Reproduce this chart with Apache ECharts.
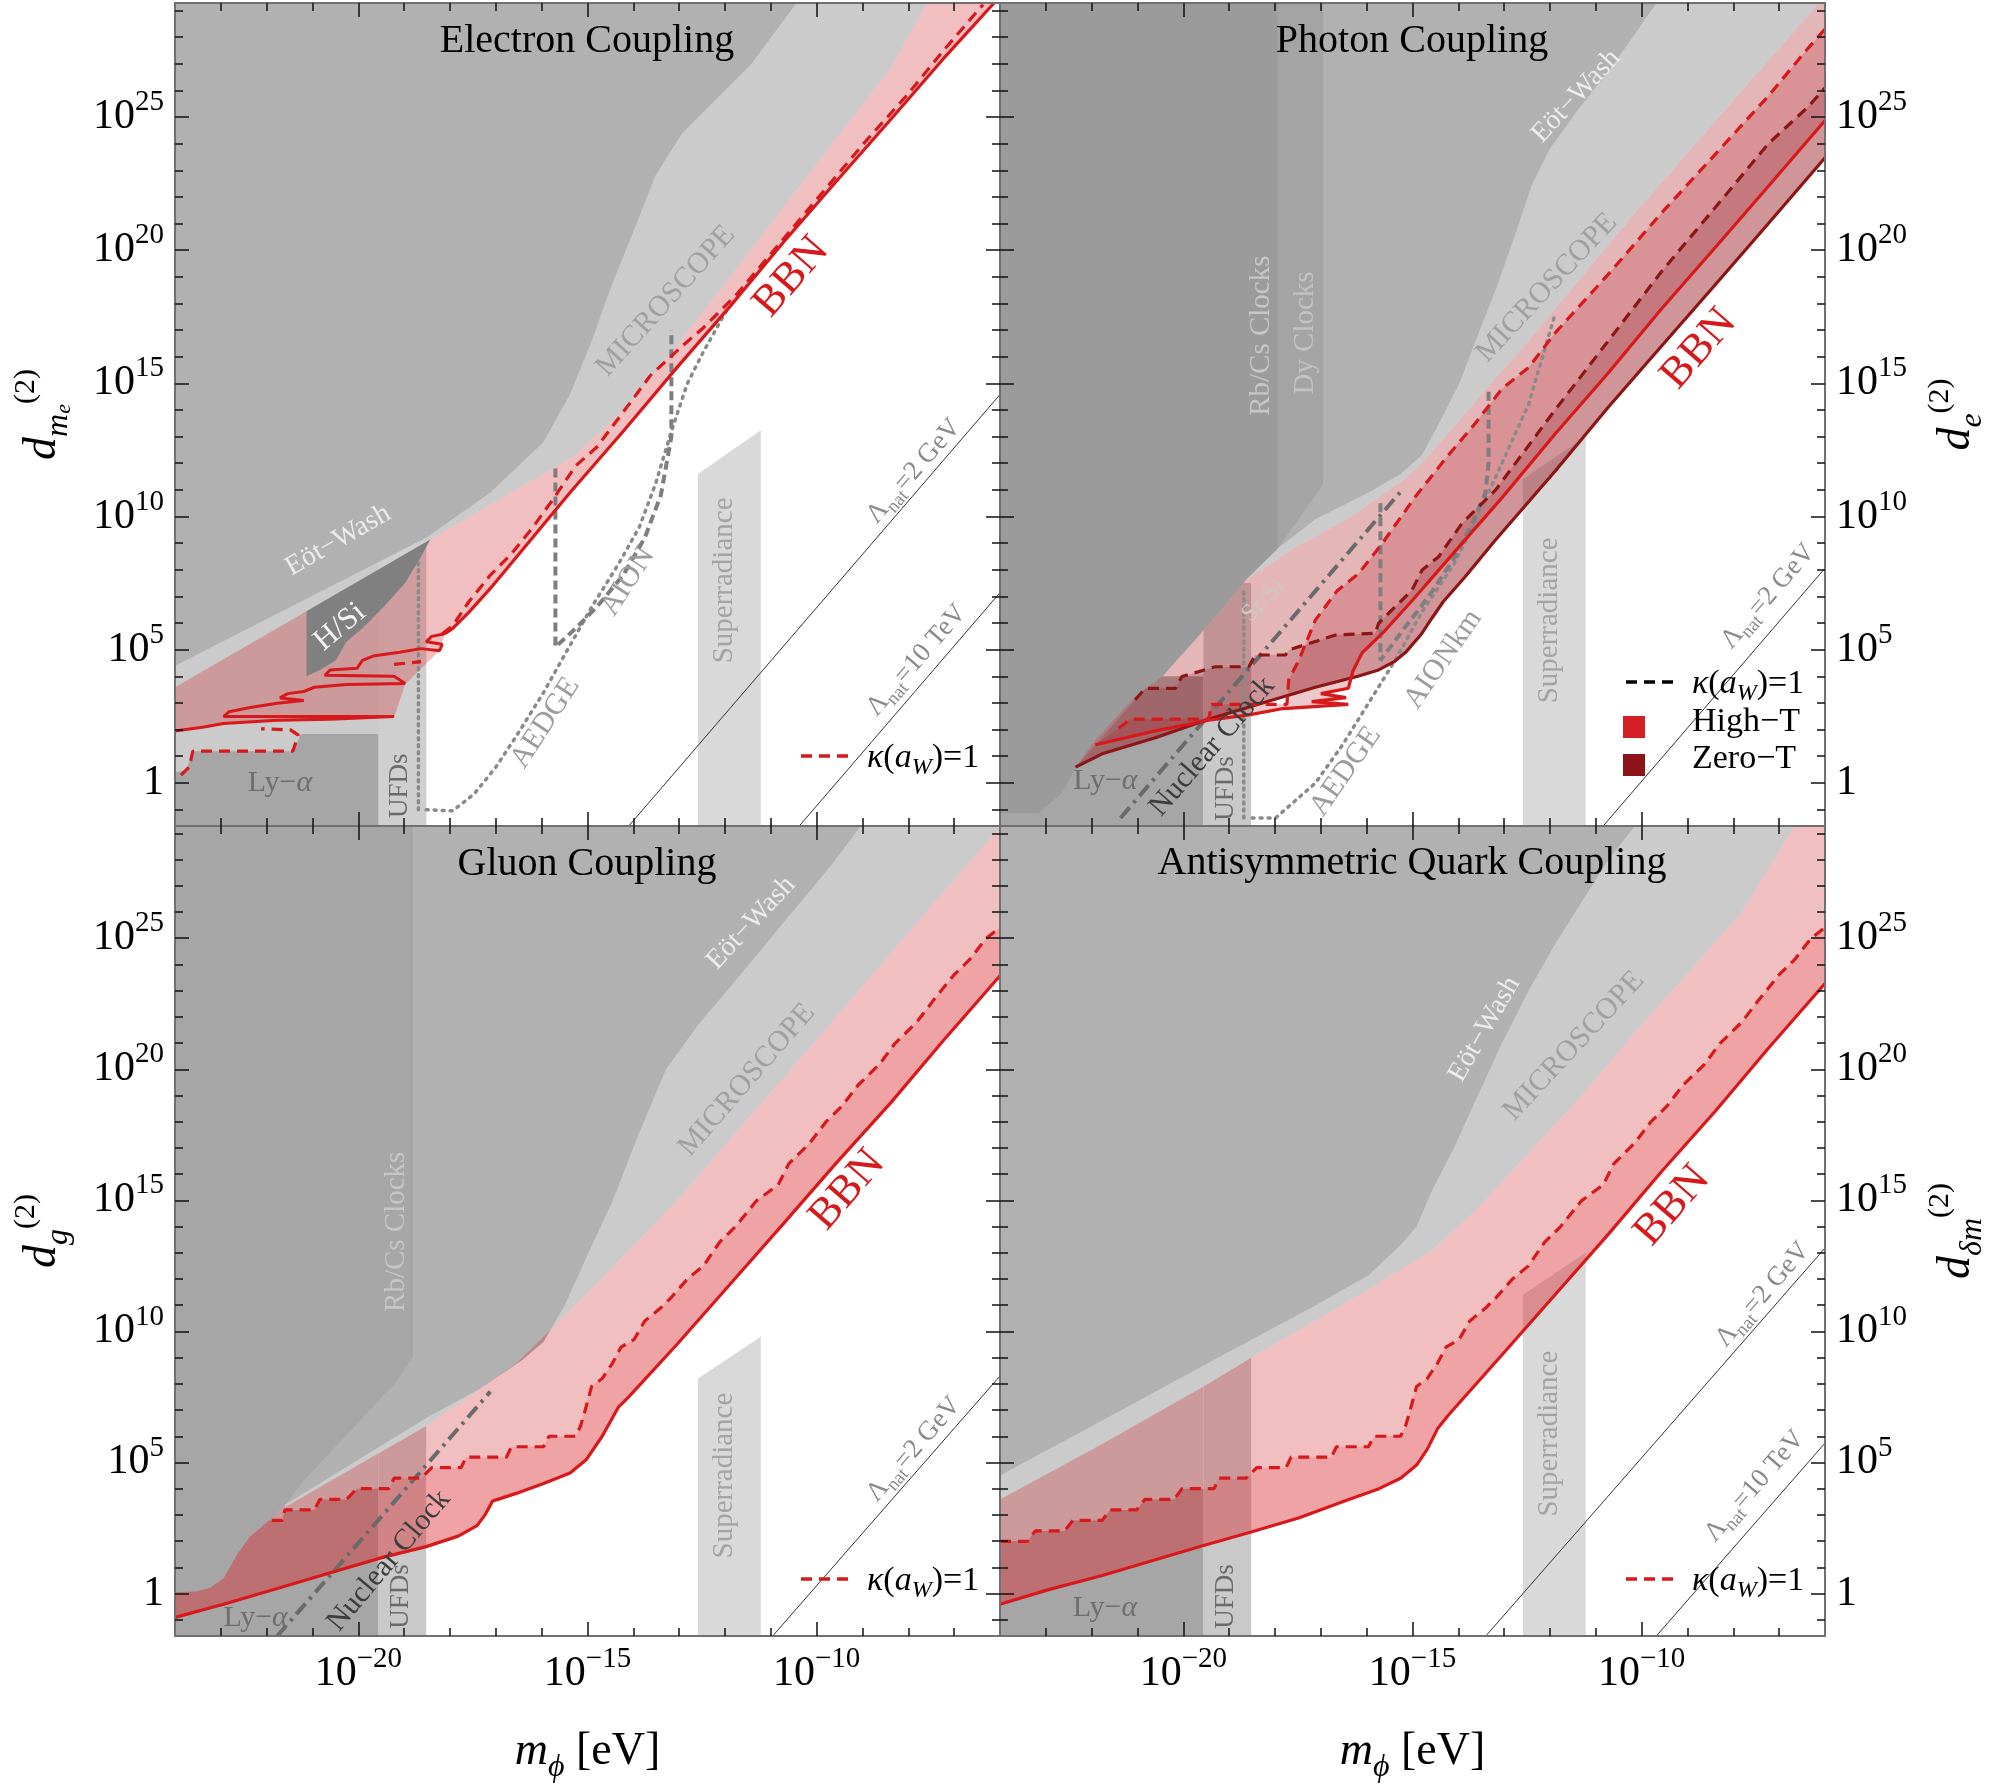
<!DOCTYPE html>
<html><head><meta charset="utf-8">
<script src="https://cdn.jsdelivr.net/npm/echarts@6/dist/echarts.min.js"></script>
<style>html,body{margin:0;padding:0;background:#fff}#c{width:2000px;height:1785px}</style>
</head><body><div id="c"></div>
<script>
// ---------- axis ranges & ticks (log10 units) ----------
const X_MIN = -24, X_MAX = -6, Y_MIN = -1.62, Y_MAX = 29.28;
const xMinorTicks = [-23,-22,-21,-20,-19,-18,-17,-16,-15,-14,-13,-12,-11,-10,-9,-8,-7];
const xMajorTicks = [-20,-15,-10];
const yMinorTicks = [-1,0,1,2,3,4,5,6,7,8,9,10,11,12,13,14,15,16,17,18,19,20,21,22,23,24,25,26,27,28,29];
const yMajorTicks = [0,5,10,15,20,25];
const panelTitles = ['Electron Coupling','Photon Coupling','Gluon Coupling','Antisymmetric Quark Coupling'];

// ---------- Panel 1: electron coupling ----------
const eMG = [[-24,4.40],[-18.52,9.20],[-17.12,10.90],[-15.96,12.80],[-15.38,14.59],[-14.91,16.59],[-14.45,18.79],[-13.98,20.79],[-13.52,22.79],[-12.94,24.38],[-12.24,25.58],[-11.43,26.98],[-10.44,29.28]];
const eLG = [[-24,3.59],[-18.40,9.16],[-15.26,12.30],[-14.22,14.00],[-13.05,16.39],[-11.89,18.99],[-10.73,21.59],[-9.57,24.19],[-8.40,26.78],[-7.59,29.28]];
const eBBN = [[-18.11,5.60],[-17.94,5.80],[-17.59,6.40],[-17.12,7.30],[-16.54,8.50],[-15.96,9.70],[-15.38,10.90],[-14.22,13.20],[-13.05,15.59],[-11.89,17.89],[-10.73,20.29],[-9.57,22.59],[-8.40,24.88],[-7.24,27.18],[-6.13,29.28]];
const eBBNZig = [[-18.11,5.60],[-18.40,5.50],[-18.52,5.30],[-18.17,5.20],[-18.23,4.96],[-18.63,5.04],[-19.10,4.90],[-19.68,4.76],[-19.91,4.60],[-20.03,4.30],[-20.61,4.24],[-20.73,4.04],[-19.22,4.00],[-18.98,3.73],[-20.26,3.69],[-20.96,3.59],[-21.19,3.43],[-21.54,3.35],[-21.71,3.19],[-21.19,3.09],[-21.77,2.99],[-22.36,2.83],[-22.82,2.67],[-22.94,2.49],[-19.22,2.49],[-20.61,2.39],[-21.77,2.35],[-22.94,2.23],[-23.40,2.09],[-24,1.95]];
const eBBNLow = [[-24,1.95],[-22.94,2.23],[-19.22,2.45],[-18.98,3.70],[-18.23,4.96],[-18.11,5.60]];
const eKappa = [[-18.17,5.60],[-17.94,5.90],[-17.59,6.80],[-17.12,7.80],[-16.66,8.60],[-16.19,9.60],[-15.73,10.70],[-15.26,11.90],[-14.80,12.60],[-14.10,14.20],[-13.63,15.29],[-12.94,16.39],[-12.47,17.09],[-11.77,18.29],[-10.84,20.19],[-9.91,22.09],[-8.98,23.99],[-8.05,25.78],[-7.24,27.48],[-6.37,29.22]];
const eKappaLow = [[-23.87,0.29],[-23.69,0.59],[-23.61,1.19],[-21.43,1.19],[-21.31,1.79],[-21.48,1.99],[-22.12,2.03]];
const eKappaMid = [[-19.22,4.45],[-18.63,4.55]];
const eLyA = [[-24,-1.62],[-24,0.39],[-23.75,0.49],[-23.61,1.19],[-21.43,1.19],[-21.25,1.83],[-19.56,1.83],[-19.56,-1.62]];
const eLGLeft = [[-24,-1.62],[-24,9.20],[-18.52,9.20],[-18.52,-1.62]];
const eUFD = [[-19.56,-1.62],[-19.56,9.10],[-18.52,9.10],[-18.52,-1.62]];
const eHSi = [[-21.13,6.44],[-18.43,9.14],[-18.63,8.50],[-18.98,7.50],[-19.45,6.60],[-19.91,5.80],[-20.26,5.30],[-20.49,4.60],[-20.84,4.24],[-21.13,4.00]];
const eAION = [[-15.70,11.80],[-15.70,5.10],[-15.26,5.80],[-14.80,6.60],[-14.22,7.80],[-13.75,9.20],[-13.40,10.80],[-13.17,13.00],[-13.17,17.00]];
const eAEDGE = [[-18.52,-1.01],[-17.94,-1.05],[-17.47,-0.41],[-17.00,0.59],[-16.54,1.79],[-15.96,3.39],[-15.50,4.80],[-14.91,6.60],[-14.33,8.20],[-13.87,9.60],[-13.52,11.20],[-13.17,13.20],[-12.82,15.00],[-12.47,16.19],[-11.95,17.79]];
const eUFDdot = [[-18.69,-1.01],[-18.69,8.40]];
const eSuper = [[-12.59,-1.62],[-12.59,11.60],[-11.22,13.24],[-11.22,-1.62]];
const eLam2 = [[-14.10,-1.62],[-6,14.58]];
const eLam10 = [[-10.38,-1.62],[-6,7.14]];

// ---------- Panel 2: photon coupling ----------
const pMG = [[-18.63,7.64],[-17.94,8.80],[-17.12,9.90],[-15.96,10.90],[-15.26,11.60],[-14.80,12.30],[-14.45,13.40],[-13.98,14.99],[-13.58,16.79],[-13.17,18.59],[-12.76,20.59],[-12.41,22.39],[-12.01,23.79],[-11.43,25.18],[-10.61,26.98],[-9.68,29.28]];
const pU = [[-22.35,0.59],[-21.92,1.61],[-21.05,3.24],[-20.46,3.99],[-19.74,5.37],[-19.15,6.55],[-18.64,7.62],[-17.59,8.80],[-16.43,9.90],[-15.26,11.30],[-14.80,12.00],[-13.98,13.60],[-13.29,14.99],[-12.47,16.59],[-11.31,18.99],[-10.15,21.39],[-8.98,23.69],[-7.82,25.98],[-6.13,29.28]];
const pRbCsEdge = [[-17.94,8.80],[-18.64,7.62],[-19.15,6.55],[-19.74,5.37],[-20.46,3.99],[-21.05,3.24],[-21.92,1.61],[-22.35,0.59],[-22.65,-0.39],[-23.16,-1.14],[-24,-1.14]];
const pDy = [[-17.94,29.28],[-16.95,29.28],[-16.95,11.20],[-17.94,8.80]];
const pLyA = [[-24,-1.62],[-24,4.00],[-19.56,4.00],[-19.56,-1.62]];
const pUFD = [[-19.56,-1.62],[-19.56,7.50],[-18.52,7.50],[-18.52,-1.62]];
const pSuper = [[-12.59,-1.62],[-12.59,11.40],[-11.22,13.00],[-11.22,-1.62]];
const pRed = [[-21.92,1.43],[-20.61,1.95],[-19.45,2.35],[-18.57,2.55],[-17.82,2.79],[-16.40,2.95],[-17.20,3.05],[-16.45,3.20],[-17.00,3.35],[-16.40,3.55],[-16.30,4.20],[-16.10,4.88],[-15.61,5.70],[-15.03,6.80],[-14.22,8.40],[-13.05,10.70],[-11.89,13.10],[-10.73,15.39],[-9.57,17.79],[-8.40,20.09],[-7.24,22.39],[-6,24.87]];
const pDark = [[-22.35,0.59],[-21.77,1.09],[-20.61,1.69],[-19.45,2.39],[-18.29,2.99],[-17.12,3.59],[-16.19,4.00],[-15.74,4.24],[-15.40,4.55],[-15.15,4.90],[-14.80,5.60],[-14.57,6.20],[-14.33,6.80],[-13.87,7.70],[-13.19,9.12],[-11.89,11.70],[-10.73,14.10],[-9.57,16.39],[-8.40,18.69],[-7.24,20.99],[-6,23.47]];
const pRedDash = [[-21.41,2.05],[-21.15,2.39],[-19.45,2.39],[-19.38,2.95],[-17.74,2.95],[-17.70,3.87],[-17.48,4.60],[-17.12,6.11],[-16.65,7.20],[-16.17,7.87],[-15.66,8.99],[-14.94,10.74],[-14.22,12.30],[-13.63,13.50],[-13.05,14.79],[-12.47,15.59],[-11.89,16.89],[-10.73,19.09],[-9.57,21.39],[-8.40,23.59],[-7.24,25.78],[-6.37,27.58],[-6,28.30]];
const pDarkDash = [[-21.05,3.12],[-20.83,3.55],[-20.17,3.55],[-20.03,3.99],[-19.30,4.36],[-18.57,4.36],[-18.43,4.80],[-17.77,4.80],[-17.70,4.99],[-16.68,5.55],[-15.81,5.62],[-15.74,5.99],[-15.01,7.24],[-14.79,7.99],[-14.43,8.49],[-13.92,9.74],[-13.19,10.99],[-11.89,14.00],[-10.73,16.59],[-9.57,19.19],[-8.40,21.59],[-7.24,23.99],[-6.37,25.38],[-6,26.10]];
const pNuc = [[-21.37,-1.32],[-15.26,10.93]];
const pAION = [[-15.70,10.50],[-15.70,4.60],[-15.15,5.87],[-14.65,6.99],[-14.07,8.49],[-13.70,9.74],[-13.41,10.87],[-13.34,12.00],[-13.34,14.79]];
const pAEDGE = [[-18.50,-1.32],[-17.99,-1.32],[-17.12,-0.01],[-16.54,1.39],[-15.96,2.99],[-15.38,4.60],[-14.80,6.40],[-14.10,8.20],[-13.63,9.80],[-13.05,12.00],[-12.47,14.20],[-11.89,17.59]];
const pUFDdot = [[-18.68,-1.32],[-18.68,7.20]];
const pLam2 = [[-10.84,-1.62],[-6,8.06]];

// ---------- Panel 3: gluon coupling ----------
const gMG = [[-21.60,3.39],[-18.52,6.70],[-17.36,7.80],[-16.43,8.90],[-15.96,9.60],[-15.50,10.99],[-15.03,12.80],[-14.45,14.99],[-13.87,17.59],[-13.29,19.99],[-12.59,21.69],[-11.77,23.39],[-10.73,25.58],[-9.68,27.78],[-9.04,29.28]];
const gLG = [[-21.60,3.29],[-18.52,6.40],[-17.59,7.50],[-16.54,8.80],[-15.73,10.20],[-14.80,11.80],[-13.05,14.99],[-11.31,18.49],[-9.57,21.99],[-7.82,25.58],[-6.02,29.18],[-6,29.28]];
const gEdge = [[-24,0.05],[-23.52,0.09],[-23.23,0.23],[-22.94,0.59],[-22.65,1.49],[-22.36,2.19],[-21.95,2.79],[-21.60,3.39]];
const gEdgeUpper = [[-21.19,4.30],[-20.61,5.40],[-19.91,6.70],[-19.22,8.00],[-18.81,9.00]];
const gLGLeft = [[-24,-1.62],[-24,6.00],[-19.56,6.00],[-19.56,-1.62]];
const gUFD = [[-19.56,-1.62],[-19.56,5.35],[-18.52,6.40],[-18.52,-1.62]];
const gSuper = [[-12.59,-1.62],[-12.59,8.20],[-11.22,9.80],[-11.22,-1.62]];
const gRed = [[-24,-0.91],[-22.94,-0.41],[-21.77,0.19],[-20.61,0.79],[-19.45,1.39],[-18.52,1.79],[-17.82,2.19],[-17.41,2.59],[-17.24,2.99],[-17.07,3.53],[-16.89,3.63],[-16.54,3.83],[-15.96,4.20],[-15.38,4.60],[-15.03,5.10],[-14.68,6.00],[-14.33,7.10],[-14.10,7.50],[-13.05,9.50],[-11.89,11.80],[-10.73,14.10],[-9.57,16.43],[-8.40,18.69],[-7.24,21.09],[-6,23.57]];
const gDash = [[-21.89,2.79],[-21.66,2.79],[-21.60,3.19],[-20.96,3.19],[-20.84,3.59],[-20.26,3.59],[-20.03,4.00],[-19.33,4.00],[-19.22,4.40],[-18.63,4.40],[-18.40,4.80],[-17.76,4.80],[-17.65,5.20],[-16.77,5.20],[-16.66,5.60],[-15.96,5.60],[-15.84,6.00],[-15.26,6.00],[-15.15,6.40],[-15.05,7.00],[-14.91,7.90],[-14.68,8.20],[-14.45,8.80],[-14.27,9.40],[-13.98,9.70],[-13.75,10.40],[-13.40,10.90],[-13.17,11.30],[-12.82,12.00],[-12.47,12.50],[-12.12,13.40],[-11.77,14.00],[-11.31,14.99],[-10.84,15.59],[-10.61,16.39],[-10.15,17.19],[-9.80,17.99],[-9.45,18.59],[-9.10,19.39],[-8.63,20.19],[-8.29,20.99],[-7.82,21.79],[-7.47,22.59],[-7.01,23.59],[-6.66,24.19],[-6.31,24.98],[-6.02,25.38]];
const gNuc = [[-21.77,-1.62],[-17.12,7.70]];
const gLam2 = [[-10.96,-1.62],[-6,8.30]];

// ---------- Panel 4: antisymmetric quark coupling ----------
const qMG = [[-24,4.50],[-21.77,6.60],[-19.45,8.80],[-17.12,10.99],[-15.96,12.14],[-15.26,13.30],[-14.91,14.00],[-14.57,15.39],[-14.10,16.99],[-13.63,18.79],[-13.05,20.99],[-12.47,22.99],[-11.89,24.78],[-11.31,26.38],[-10.73,27.98],[-10.15,29.28]];
const qLG = [[-24,3.59],[-21.77,5.70],[-19.56,7.90],[-18.52,9.00],[-17.12,10.40],[-15.96,11.60],[-14.57,13.10],[-13.63,14.59],[-12.47,16.79],[-11.31,18.99],[-10.15,21.39],[-8.98,23.69],[-7.82,25.98],[-6.66,29.28]];
const qLGLeft = [[-24,-1.62],[-24,8.00],[-19.56,8.00],[-19.56,-1.62]];
const qUFD = [[-19.56,-1.62],[-19.56,7.90],[-18.52,9.00],[-18.52,-1.62]];
const qSuper = [[-12.59,-1.62],[-12.59,11.40],[-11.22,13.00],[-11.22,-1.62]];
const qRed = [[-24,-0.41],[-22.94,0.15],[-21.77,0.69],[-20.61,1.29],[-19.56,1.83],[-18.52,2.35],[-17.47,2.89],[-16.54,3.49],[-15.73,4.00],[-15.26,4.40],[-14.91,4.90],[-14.68,5.50],[-14.45,6.30],[-14.22,6.80],[-13.05,9.10],[-11.89,11.40],[-10.73,13.70],[-9.57,16.09],[-8.40,18.39],[-7.24,20.79],[-6,23.27]];
const qDash = [[-24,1.99],[-23.40,1.99],[-23.23,2.39],[-22.59,2.39],[-22.41,2.79],[-21.77,2.79],[-21.60,3.19],[-21.02,3.19],[-20.84,3.59],[-20.20,3.59],[-20.03,4.00],[-19.33,4.00],[-19.22,4.40],[-18.63,4.40],[-18.40,4.80],[-17.76,4.80],[-17.65,5.20],[-16.77,5.20],[-16.66,5.60],[-15.96,5.60],[-15.84,6.00],[-15.26,6.00],[-15.15,6.40],[-15.05,7.00],[-14.91,7.90],[-14.68,8.20],[-14.45,8.80],[-14.27,9.40],[-13.98,9.70],[-13.75,10.40],[-13.40,10.90],[-13.17,11.30],[-12.82,12.00],[-12.47,12.50],[-12.12,13.40],[-11.77,14.00],[-11.31,14.99],[-10.84,15.59],[-10.61,16.39],[-10.15,17.19],[-9.80,17.99],[-9.45,18.59],[-9.10,19.39],[-8.63,20.19],[-8.29,20.99],[-7.82,21.79],[-7.47,22.59],[-7.01,23.59],[-6.66,24.19],[-6.31,24.98],[-6.02,25.38]];
const qLam2 = [[-13.40,-1.62],[-6,13.18]];
const qLam10 = [[-9.68,-1.62],[-6,5.74]];

// ---------- text labels: [log m, log d, text, rotation deg, colour, size] ----------
const LAM2 = '{n|\u039b}{s|nat}{n|=2 GeV}', LAM10 = '{n|\u039b}{s|nat}{n|=10 TeV}', LYA = '{n|Ly\u2212}{i|\u03b1}';
const eLabels = [[-20.44,9.10,'{n|E\u00f6t\u2212Wash}',30,'#ececec',28],[-20.40,5.85,'{n|H/Si}',40,'#f4f4f4',31],[-13.29,18.09,'{n|MICROSCOPE}',48,'#a0a0a0',30],[-10.55,18.99,'{n|BBN}',49,'#d7191c',44],[-14.12,7.56,'{n|AION}',57,'#9c9c9c',30],[-15.92,2.25,'{n|AEDGE}',57,'#9c9c9c',30],[-12.01,7.60,'{n|Superradiance}',90,'#a3a3a3',29],[-19.10,-0.11,'{n|UFDs}',90,'#6a6a6a',27],[-21.71,-0.01,LYA,0,'#6e6e6e',30],[-7.88,11.70,LAM2,49,'#8a8a8a',27],[-7.82,4.60,LAM10,49,'#8a8a8a',27]];
const pLabels = [[-18.29,16.79,'{n|Rb/Cs Clocks}',90,'#c6c6c6',29],[-17.33,16.89,'{n|Dy Clocks}',90,'#c2c2c2',29],[-11.43,25.78,'{n|E\u00f6t\u2212Wash}',47,'#ececec',28],[-12.07,18.59,'{n|MICROSCOPE}',47,'#a0a0a0',30],[-8.75,16.29,'{n|BBN}',49,'#d7191c',44],[-18.25,6.84,'{n|Sr/Si}',45,'#c8c8c8',25],[-19.37,1.36,'{n|Nuclear Clock}',49,'#3c3c3c',30],[-19.07,-0.21,'{n|UFDs}',90,'#6a6a6a',27],[-21.70,0.05,LYA,0,'#6e6e6e',30],[-16.46,0.43,'{n|AEDGE}',55,'#9c9c9c',30],[-14.33,4.64,'{n|AIONkm}',55,'#9c9c9c',30],[-12.01,6.10,'{n|Superradiance}',90,'#a3a3a3',29],[-7.24,7.00,LAM2,49,'#8a8a8a',27]];
const gLabels = [[-19.16,13.80,'{n|Rb/Cs Clocks}',90,'#c6c6c6',29],[-11.43,25.58,'{n|E\u00f6t\u2212Wash}',47,'#ececec',28],[-11.52,19.59,'{n|MICROSCOPE}',49,'#a0a0a0',30],[-9.33,15.39,'{n|BBN}',49,'#d7191c',44],[-19.33,1.25,'{n|Nuclear Clock}',50,'#3c3c3c',30],[-19.07,-0.11,'{n|UFDs}',90,'#6a6a6a',27],[-22.24,-0.95,LYA,0,'#6e6e6e',30],[-12.01,4.50,'{n|Superradiance}',90,'#a3a3a3',29],[-7.88,5.50,LAM2,49,'#8a8a8a',27]];
const qLabels = [[-13.43,21.53,'{n|E\u00f6t\u2212Wash}',60,'#ececec',28],[-11.48,20.89,'{n|MICROSCOPE}',47,'#a0a0a0',30],[-9.33,14.79,'{n|BBN}',49,'#d7191c',44],[-12.01,6.10,'{n|Superradiance}',90,'#a3a3a3',29],[-19.07,-0.11,'{n|UFDs}',90,'#6a6a6a',27],[-21.71,-0.56,LYA,0,'#6e6e6e',30],[-7.36,11.40,LAM2,49,'#8a8a8a',27],[-7.53,4.10,LAM10,49,'#8a8a8a',27]];

// ---------- styling ----------
const FONT = "'Liberation Serif','DejaVu Serif',serif";
const MG = '#b1b1b1', LG = '#cbcbcb', LYAC = '#a6a6a6', UFDC = '#c9c9c9', SUPC = '#d9d9d9', HSIC = '#808080';
const RED = '#d7191c', DRED = '#8c1515';
const PINK = 'rgba(208,42,48,0.30)', HBAND = 'rgba(236,40,45,0.19)';
const PINK2 = 'rgba(180,45,50,0.35)', HBAND2 = 'rgba(185,41,46,0.25)', ZBAND = 'rgba(120,20,30,0.20)';

const above = c => [[c[0][0], Y_MAX]].concat(c, [[c[c.length-1][0], Y_MAX]]);
const band = (up, lo) => up.concat(lo.slice().reverse());
// Ly-alpha region (left of the UFD strip) bounded above by the kappa=1 curve
const underLeft = (top, xCut) => {
  const kept = top.filter(p => p[0] <= xCut);
  const last = kept[kept.length - 1];
  return [[X_MIN, Y_MIN]].concat(kept, [[xCut, last[1]], [xCut, Y_MIN]]);
};
const gLyA = underLeft(gEdge.slice(0, 7).concat(gDash), -19.56);
const qLyA = underLeft(qDash, -19.56);

const DOT = [2,6];
const panels = [
  { polys: [
      {pts: above(eLG), fill: LG}, {pts: eLGLeft, fill: LG}, {pts: eLyA, fill: LYAC}, {pts: eUFD, fill: '#cfcfcf'},
      {pts: above(eMG), fill: MG}, {pts: eSuper, fill: SUPC},
      {pts: band(eLG.concat([[-6.13, Y_MAX]]), eBBNLow.concat(eBBN.slice(1))), fill: PINK},
      {pts: eHSi, fill: HSIC}],
    lines: [
      {d: eLam2, c: '#333', w: 1, t: 'solid'}, {d: eLam10, c: '#333', w: 1, t: 'solid'},
      {d: eAEDGE, c: '#8a8a8a', w: 3.5, t: DOT}, {d: eUFDdot, c: '#8a8a8a', w: 3.5, t: [2,5]},
      {d: eAION, c: '#7e7e7e', w: 4, t: [9,5]},
      {d: eBBN, c: RED, w: 3.2, t: 'solid'}, {d: eBBNZig, c: RED, w: 3, t: 'solid'},
      {d: eKappa, c: RED, w: 3.2, t: [11,7]}, {d: eKappaLow, c: RED, w: 3.2, t: [11,7]}, {d: eKappaMid, c: RED, w: 3.2, t: [11,7]}],
    labels: eLabels },
  { polys: [
      {pts: above(pU.concat([[-6, Y_MAX]])), fill: LG}, {pts: pLyA, fill: LYAC}, {pts: pUFD, fill: UFDC},
      {pts: above(pMG), fill: MG}, {pts: pDy, fill: '#a4a4a4'},
      {pts: [[-24, Y_MAX], [-17.94, Y_MAX]].concat(pRbCsEdge), fill: '#9b9b9b'},
      {pts: pSuper, fill: SUPC},
      {pts: band(pU.concat([[-6, Y_MAX]]), pDark), fill: PINK2},
      {pts: band(pRedDash, pRed), fill: HBAND2},
      {pts: band(pDarkDash, pDark), fill: ZBAND}],
    lines: [
      {d: pLam2, c: '#333', w: 1, t: 'solid'},
      {d: pAEDGE, c: '#8a8a8a', w: 3.5, t: DOT}, {d: pUFDdot, c: '#8a8a8a', w: 3.5, t: [2,5]},
      {d: pNuc, c: '#6a6a6a', w: 4, t: [14,6,3,6]}, {d: pAION, c: '#7e7e7e', w: 4, t: [9,5]},
      {d: pDark, c: DRED, w: 3.2, t: 'solid'}, {d: pRed, c: RED, w: 3.2, t: 'solid'},
      {d: pDarkDash, c: DRED, w: 3.2, t: [11,7]}, {d: pRedDash, c: RED, w: 3.2, t: [11,7]}],
    labels: pLabels },
  { polys: [
      {pts: gLGLeft, fill: LG},
      {pts: above(gLG), fill: LG}, {pts: above(gMG), fill: MG}, {pts: gLyA, fill: LYAC}, {pts: gUFD, fill: UFDC},
      {pts: [[-24, Y_MAX]].concat(gEdge, gEdgeUpper, [[-18.81, Y_MAX]]), fill: LYAC},
      {pts: gSuper, fill: SUPC},
      {pts: band(gEdge.concat(gLG), gRed), fill: PINK},
      {pts: band(gEdge.slice(0, 7).concat(gDash), gRed), fill: HBAND}],
    lines: [
      {d: gLam2, c: '#333', w: 1, t: 'solid'},
      {d: gNuc, c: '#6a6a6a', w: 4, t: [14,6,3,6]},
      {d: gRed, c: RED, w: 3.2, t: 'solid'}, {d: gDash, c: RED, w: 3.2, t: [11,7]}],
    labels: gLabels },
  { polys: [
      {pts: above(qLG.concat([[-6, Y_MAX]])), fill: LG}, {pts: qLGLeft, fill: LG}, {pts: qLyA, fill: LYAC}, {pts: qUFD, fill: UFDC},
      {pts: above(qMG), fill: MG}, {pts: qSuper, fill: SUPC},
      {pts: band(qLG.concat([[-6, Y_MAX]]), qRed), fill: PINK},
      {pts: band(qDash, qRed), fill: HBAND}],
    lines: [
      {d: qLam2, c: '#333', w: 1, t: 'solid'}, {d: qLam10, c: '#333', w: 1, t: 'solid'},
      {d: qRed, c: RED, w: 3.2, t: 'solid'}, {d: qDash, c: RED, w: 3.2, t: [11,7]}],
    labels: qLabels }
];

const grids = [
  {left: 175, top: 3, width: 825, height: 823},
  {left: 1000, top: 3, width: 825, height: 823},
  {left: 175, top: 826, width: 825, height: 823},
  {left: 1000, top: 826, width: 825, height: 823}
];

function pow10(v) {
  if (v === 0) return '{b|1}';
  return '{b|10}{s|' + (v < 0 ? '\u2212' + (-v) : v) + '}';
}
const TICK_RICH = {
  b: {fontSize: 42, fontFamily: FONT, color: '#000', lineHeight: 58},
  s: {fontSize: 29, fontFamily: FONT, color: '#000', verticalAlign: 'top', lineHeight: 30}
};
const NAME_RICH = {
  d: {fontSize: 46, fontStyle: 'italic', fontFamily: FONT, color: '#000', lineHeight: 64},
  n: {fontSize: 46, fontFamily: FONT, color: '#000', lineHeight: 64},
  m: {fontSize: 32, fontStyle: 'italic', fontFamily: FONT, color: '#000', verticalAlign: 'bottom', lineHeight: 34},
  e: {fontSize: 22, fontStyle: 'italic', fontFamily: FONT, color: '#000', verticalAlign: 'bottom', lineHeight: 22},
  p: {fontSize: 30, fontFamily: FONT, color: '#000', verticalAlign: 'top', lineHeight: 30}
};
const yNames = ['{d|d}{m|m}{e|e}{p|(2)}', '{d|d}{m|e}{p|(2)}', '{d|d}{m|g}{p|(2)}', '{d|d}{m|\u03b4m}{p|(2)}'];
const xName = '{d|m}{m|\u03d5}{n| [eV]}';

const FRAME = {color: '#707070', width: 2};
const TICKSTYLE = {color: '#111', width: 1.5};

const xAxis = [], yAxis = [], series = [];
panels.forEach((P, g) => {
  const isBottom = g >= 2, isRight = g % 2 === 1;
  const cx = {type: 'value', gridIndex: g, min: X_MIN, max: X_MAX, splitLine: {show: false}, z: 10};
  xAxis.push(
    Object.assign({}, cx, {position: 'bottom', axisLine: {show: true, onZero: false, lineStyle: FRAME},
      axisTick: {show: true, inside: true, length: 8, customValues: xMinorTicks, lineStyle: TICKSTYLE}, axisLabel: {show: false}}),
    Object.assign({}, cx, {position: 'bottom', axisLine: {show: false, onZero: false},
      axisTick: {show: true, inside: true, length: 14, customValues: xMajorTicks, lineStyle: TICKSTYLE},
      axisLabel: isBottom ? {show: true, customValues: xMajorTicks, formatter: pow10, rich: TICK_RICH, margin: 9} : {show: false},
      name: isBottom ? xName : '', nameLocation: 'middle', nameGap: 84, nameTextStyle: {rich: NAME_RICH}}),
    Object.assign({}, cx, {position: 'top', axisLine: {show: true, onZero: false, lineStyle: FRAME},
      axisTick: {show: true, inside: true, length: 8, customValues: xMinorTicks, lineStyle: TICKSTYLE}, axisLabel: {show: false}}),
    Object.assign({}, cx, {position: 'top', axisLine: {show: false, onZero: false},
      axisTick: {show: true, inside: true, length: 14, customValues: xMajorTicks, lineStyle: TICKSTYLE}, axisLabel: {show: false}})
  );
  const cy = {type: 'value', gridIndex: g, min: Y_MIN, max: Y_MAX, splitLine: {show: false}, z: 10};
  const lab = {show: true, customValues: yMajorTicks, formatter: pow10, rich: TICK_RICH, margin: 11};
  const nm = {name: yNames[g], nameLocation: 'middle', nameRotate: 90, nameGap: 100, nameTextStyle: {rich: NAME_RICH}};
  yAxis.push(
    Object.assign({}, cy, {position: 'left', axisLine: {show: true, onZero: false, lineStyle: FRAME},
      axisTick: {show: true, inside: true, length: 8, customValues: yMinorTicks, lineStyle: TICKSTYLE}, axisLabel: {show: false}}),
    Object.assign({}, cy, {position: 'left', axisLine: {show: false, onZero: false},
      axisTick: {show: true, inside: true, length: 14, customValues: yMajorTicks, lineStyle: TICKSTYLE},
      axisLabel: isRight ? {show: false} : lab}, isRight ? {} : nm),
    Object.assign({}, cy, {position: 'right', axisLine: {show: true, onZero: false, lineStyle: FRAME},
      axisTick: {show: true, inside: true, length: 8, customValues: yMinorTicks, lineStyle: TICKSTYLE}, axisLabel: {show: false}}),
    Object.assign({}, cy, {position: 'right', axisLine: {show: false, onZero: false},
      axisTick: {show: true, inside: true, length: 14, customValues: yMajorTicks, lineStyle: TICKSTYLE},
      axisLabel: isRight ? lab : {show: false}}, isRight ? nm : {})
  );
  const ai = 4 * g;
  // filled regions
  series.push({
    type: 'custom', xAxisIndex: ai, yAxisIndex: ai, z: 1, silent: true, animation: false,
    data: P.polys.map(p => p.pts[0]),
    renderItem: (params, api) => {
      const p = P.polys[params.dataIndex];
      return {type: 'polygon', z2: params.dataIndex, shape: {points: p.pts.map(q => api.coord(q))}, style: {fill: p.fill}};
    }
  });
  // curves
  P.lines.forEach((L, k) => series.push({
    type: 'line', xAxisIndex: ai, yAxisIndex: ai, z: 3 + k * 0.01, data: L.d, showSymbol: false, symbol: 'none',
    silent: true, animation: false, clip: true,
    lineStyle: {color: L.c, width: L.w, type: L.t, cap: Array.isArray(L.t) && L.t[0] <= 2 ? 'round' : 'butt'}
  }));
  // text annotations
  series.push({
    type: 'custom', xAxisIndex: ai, yAxisIndex: ai, z: 5, silent: true, animation: false,
    data: P.labels.map(l => [l[0], l[1]]),
    renderItem: (params, api) => {
      const l = P.labels[params.dataIndex];
      const pt = api.coord([l[0], l[1]]);
      const sz = l[5], col = l[4];
      return {type: 'text', x: pt[0], y: pt[1], rotation: l[3] * Math.PI / 180,
        style: {text: l[2], align: 'center', verticalAlign: 'middle', fill: col, fontSize: sz, fontFamily: FONT,
          rich: {
            n: {fontSize: sz, fontFamily: FONT, fill: col, color: col, lineHeight: sz * 1.3},
            i: {fontSize: sz, fontFamily: FONT, fontStyle: 'italic', fill: col, color: col, lineHeight: sz * 1.3},
            s: {fontSize: sz * 0.7, fontFamily: FONT, fill: col, color: col, verticalAlign: 'bottom', lineHeight: sz * 0.72}
          }}};
    }
  });
});

// titles and legends (layout only)
const graphic = [];
const titlePos = [[587, 41.5], [1412, 41.5], [587, 864.5], [1412, 863]];
panelTitles.forEach((t, i) => graphic.push({type: 'text', x: titlePos[i][0], y: titlePos[i][1], z: 50,
  style: {text: t, fontSize: 40, fontFamily: FONT, fill: '#000', align: 'center', verticalAlign: 'middle'}}));
const KRICH = (c) => ({
  n: {fontSize: 34, fontFamily: FONT, fill: c, lineHeight: 44},
  i: {fontSize: 34, fontFamily: FONT, fontStyle: 'italic', fill: c, lineHeight: 44},
  s: {fontSize: 24, fontFamily: FONT, fontStyle: 'italic', fill: c, verticalAlign: 'bottom', lineHeight: 24}
});
const KTEXT = '{i|\u03ba}{n|(}{i|a}{s|W}{n|)=1}';
function kappaLegend(x0, y0, col) {
  graphic.push({type: 'line', z: 50, shape: {x1: x0, y1: y0, x2: x0 + 50, y2: y0}, style: {stroke: col, lineWidth: 3.5, lineDash: [11, 7]}});
  graphic.push({type: 'text', z: 50, x: x0 + 66, y: y0 + 2, style: {text: KTEXT, rich: KRICH('#000'), fill: '#000', align: 'left', verticalAlign: 'middle'}});
}
kappaLegend(801, 756, RED);
kappaLegend(801, 1579, RED);
kappaLegend(1626, 1579, RED);
kappaLegend(1626, 682, '#000');
graphic.push({type: 'rect', z: 50, shape: {x: 1623, y: 716, width: 22, height: 22}, style: {fill: '#d42025'}});
graphic.push({type: 'text', z: 50, x: 1692, y: 722, style: {text: 'High\u2212T', fontSize: 34, fontFamily: FONT, fill: '#000', align: 'left', verticalAlign: 'middle'}});
graphic.push({type: 'rect', z: 50, shape: {x: 1623, y: 754, width: 22, height: 22}, style: {fill: '#8c1419'}});
graphic.push({type: 'text', z: 50, x: 1692, y: 759, style: {text: 'Zero\u2212T', fontSize: 34, fontFamily: FONT, fill: '#000', align: 'left', verticalAlign: 'middle'}});

const chart = echarts.init(document.getElementById('c'), null, {renderer: 'canvas'});
chart.setOption({animation: false, backgroundColor: '#fff', grid: grids, xAxis, yAxis, series, graphic});
</script></body></html>
